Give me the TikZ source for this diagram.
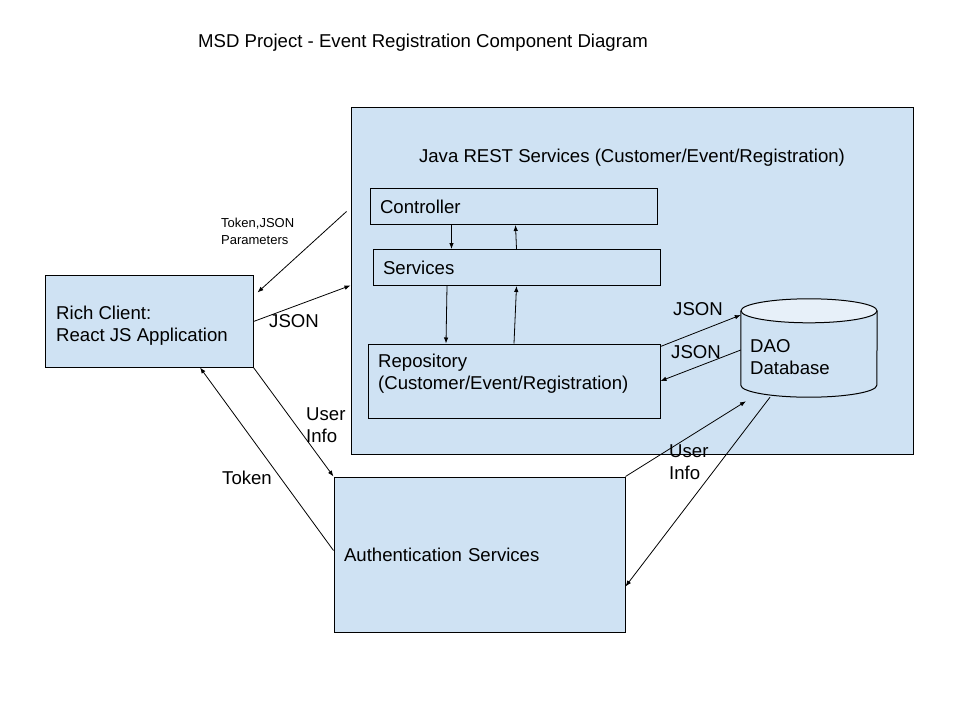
\documentclass[tikz,border=0pt]{standalone}
\usepackage{fontspec}
\setmainfont{Liberation Sans}
\usetikzlibrary{arrows.meta}
\definecolor{compblue}{HTML}{CFE2F3}
\definecolor{captop}{HTML}{E7F0F9}
\tikzset{
  comp/.style={fill=compblue, draw, line width=1pt, inner sep=0pt},
  part/.style={draw, line width=1pt, align=left, inner xsep=10pt, inner ysep=0pt},
  lbl/.style={align=left, inner sep=0pt},
  arr/.style={-{Latex[length=6pt,width=4.5pt]}, line width=0.8pt},
}
\begin{document}
\begin{tikzpicture}[x=1pt, y=-1pt, font=\fontsize{18.6}{22}\selectfont]
\useasboundingbox (0,0) rectangle (960,720);

\node (title) at (423,43) {MSD Project - Event Registration Component Diagram};

\node (java) at (632,280.5) [comp, minimum width=562pt, minimum height=347pt]{};
\node (java-t) at (632,158) {Java REST Services (Customer/Event/Registration)};

\node (ctrl) at (513.5,206.5) [part, text width=267pt, minimum height=36pt]{Controller};
\node (serv) at (516.5,267.5) [part, text width=267pt, minimum height=36pt]{Services};

\node (repo) at (514,381) [part, minimum width=292pt, minimum height=74pt]{};
\node (repo-t) at (378,373.5) [lbl, anchor=west]{Repository\\(Customer/Event/Registration)};

% database cylinder
\node (db) at (809,348) [minimum width=136pt, minimum height=98pt, inner sep=0pt]{};
\draw [line width=1pt, fill=compblue] ([yshift=-12pt]db.north west) -- ([yshift=12pt]db.south west)
  arc [start angle=180, end angle=360, x radius=68pt, y radius=12pt] -- ([yshift=-12pt]db.north east);
\draw [line width=1pt, fill=captop] ([yshift=-12pt]db.north) ellipse [x radius=68pt, y radius=12pt];
\node (db-t) at (750,357) [lbl, anchor=west]{DAO\\Database};

\node (rich) at (149,321) [comp, minimum width=208pt, minimum height=92pt]{};
\node (rich-t) at (56,326) [lbl, anchor=west]{Rich Client:\\React JS Application};

\node (auth) at (479.5,554.5) [comp, minimum width=291pt, minimum height=155pt,
  text width=271pt, inner xsep=10pt, align=left]{Authentication Services};

% client <-> rest services
\draw [arr] ([shift={(-4,105)}]java.north west) -- ([shift={(4,18)}]rich.north east);
\draw [arr] ([shift={(0,47)}]rich.north east) -- ([shift={(0,179)}]java.north west);

% inside the services
\draw [arr] ([xshift=-62pt]ctrl.south) -- ([xshift=-65pt]serv.north);
\draw [arr] (serv.north) -- ([xshift=2pt]ctrl.south);
\draw [arr] ([xshift=-69.5pt]serv.south) -- ([xshift=-68pt]repo.north);
\draw [arr] (repo.north) -- (serv.south);

% repository <-> database
\draw [arr] ([yshift=-3pt]repo.north east) -- ([yshift=33pt]db.west);
\draw [arr] ([yshift=-2pt]db.west) -- (repo.east);

% authentication
\draw [arr] (rich.south east) -- (auth.north west);
\draw [arr] ([yshift=4pt]auth.west) -- ([xshift=51pt]rich.south);
\draw [arr] (auth.north east) -- ([shift={(-63pt,-4pt)}]db.south);
\draw [arr] ([xshift=-39pt]db.south) -- ([yshift=-32pt]auth.east);

\node (tokjson) at (221,231.5) [lbl, anchor=west, font=\fontsize{13}{17}\selectfont]{Token,JSON\\Parameters};
\node (json-a) at (294,321) {JSON};
\node (json-b) at (698,309) {JSON};
\node (json-c) at (696,352) {JSON};
\node (uinfo-a) at (306,425.5) [lbl, anchor=west]{User\\Info};
\node (uinfo-b) at (669,462) [lbl, anchor=west]{User\\Info};
\node (token) at (247,478) {Token};

\end{tikzpicture}
\end{document}
